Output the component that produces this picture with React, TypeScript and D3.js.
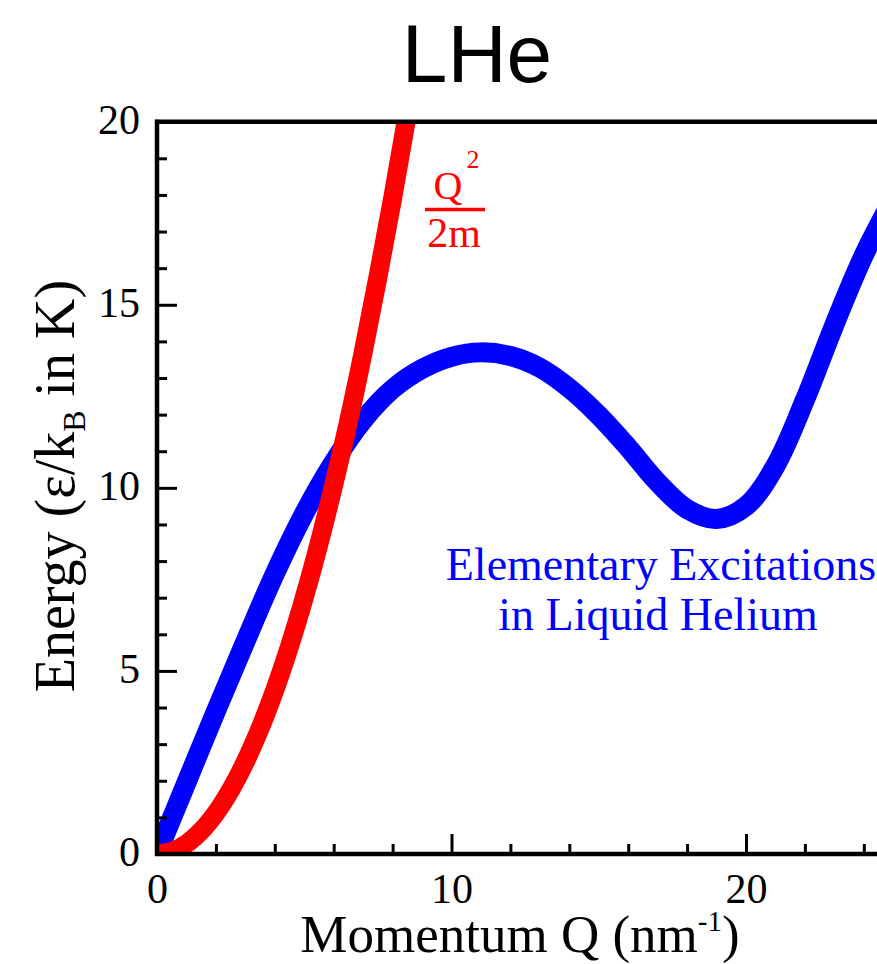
import React, { useEffect, useRef } from "react";
import * as d3 from "d3";

// blue curve: elementary excitations in liquid helium (phonon-roton)
const momentum = [0, 1, 2, 3, 4, 5, 6, 7, 8, 9, 10, 11, 12, 13, 14, 15, 16, 17, 18, 19, 20, 21, 22, 23, 24, 25];
const excitationEnergy = [0, 1.95, 3.9, 5.8, 7.65, 9.3, 10.7, 11.85, 12.7, 13.25, 13.58, 13.7, 13.6, 13.28, 12.72, 11.98, 11.1, 10.15, 9.42, 9.15, 9.5, 10.6, 12.4, 14.45, 16.35, 17.9];

// red curve: free particle Q^2/2m
const freeMomentum = [0, 0.5, 1, 1.5, 2, 2.5, 3, 3.5, 4, 4.5, 5, 5.5, 6, 6.5, 7, 7.5, 8, 8.5, 9];
const freeEnergy = [0, 0.07, 0.28, 0.63, 1.12, 1.75, 2.52, 3.43, 4.48, 5.67, 7.0, 8.47, 10.08, 11.8, 13.7, 15.75, 17.9, 20.2, 22.7];

const xMajorTicks = [0, 10, 20];
const xMinorTicks = [2, 4, 6, 8, 12, 14, 16, 18, 22, 24];
const yMajorTicks = [0, 5, 10, 15, 20];
const yMinorTicks = [1, 2, 3, 4, 6, 7, 8, 9, 11, 12, 13, 14, 16, 17, 18, 19];

const serif = "'Liberation Serif', 'Times New Roman', serif";
const sans = "'Liberation Sans', Arial, Helvetica, sans-serif";

function LHeChart() {
  const ref = useRef<SVGSVGElement>(null);

  useEffect(() => {
    const W = 877;
    const H = 964;
    const svg = d3.select(ref.current);
    svg.selectAll("*").remove();
    svg.attr("width", W).attr("height", H);

    const left = 157;
    const bottom = 854;
    const top = 121.7;
    const x = d3.scaleLinear().domain([0, 25]).range([left, left + 25 * 29.45]);
    const y = d3.scaleLinear().domain([0, 20]).range([bottom, top]);

    svg
      .append("defs")
      .append("clipPath")
      .attr("id", "plot-clip")
      .append("rect")
      .attr("x", left)
      .attr("y", top)
      .attr("width", x(25) - left)
      .attr("height", bottom - top);

    // title
    svg
      .append("text")
      .attr("x", 477)
      .attr("y", 82)
      .attr("text-anchor", "middle")
      .attr("font-family", sans)
      .attr("font-size", 82)
      .attr("fill", "#000")
      .text("LHe");

    const curves = svg.append("g").attr("clip-path", "url(#plot-clip)");
    const line = d3
      .line<[number, number]>()
      .x(d => x(d[0]))
      .y(d => y(d[1]))
      .curve(d3.curveCatmullRom.alpha(0.5));

    curves
      .append("path")
      .attr("d", line(momentum.map((q, i) => [q, excitationEnergy[i]] as [number, number])))
      .attr("fill", "none")
      .attr("stroke", "#0000ff")
      .attr("stroke-width", 20);

    curves
      .append("path")
      .attr("d", line(freeMomentum.map((q, i) => [q, freeEnergy[i]] as [number, number])))
      .attr("fill", "none")
      .attr("stroke", "#ff0000")
      .attr("stroke-width", 19);

    // ticks
    const axisX = svg.append("g").attr("transform", "translate(0," + bottom + ")");
    axisX.call(d3.axisBottom(x).tickValues(xMinorTicks).tickSize(-10).tickSizeOuter(0).tickFormat(() => ""));
    const axisXMajor = svg.append("g").attr("transform", "translate(0," + bottom + ")");
    axisXMajor.call(d3.axisBottom(x).tickValues(xMajorTicks).tickSize(-20).tickSizeOuter(0).tickPadding(19).tickFormat(d3.format("d")));

    const axisY = svg.append("g").attr("transform", "translate(" + left + ",0)");
    axisY.call(d3.axisLeft(y).tickValues(yMinorTicks).tickSize(-10).tickSizeOuter(0).tickFormat(() => ""));
    const axisYMajor = svg.append("g").attr("transform", "translate(" + left + ",0)");
    axisYMajor.call(d3.axisLeft(y).tickValues(yMajorTicks).tickSize(-20).tickSizeOuter(0).tickPadding(17).tickFormat(d3.format("d")));

    [axisX, axisXMajor, axisY, axisYMajor].forEach(g => {
      g.select(".domain").remove();
      g.selectAll(".tick line").attr("stroke", "#000").attr("stroke-width", 3);
      g.selectAll(".tick text").attr("font-family", serif).attr("font-size", 42).attr("fill", "#000");
    });
    axisYMajor.selectAll(".tick text").attr("dy", "0.28em");

    // frame
    const frame = svg.append("g").attr("stroke", "#000").attr("stroke-width", 4.5).attr("fill", "none");
    frame.append("line").attr("x1", left).attr("x2", left).attr("y1", top - 2).attr("y2", bottom + 2);
    frame.append("line").attr("x1", left - 2).attr("x2", x(25)).attr("y1", bottom).attr("y2", bottom);
    frame.append("line").attr("x1", left - 2).attr("x2", x(25)).attr("y1", top).attr("y2", top);

    // axis titles
    const xTitle = svg
      .append("text")
      .attr("x", 520)
      .attr("y", 952)
      .attr("text-anchor", "middle")
      .attr("font-family", serif)
      .attr("font-size", 53)
      .attr("fill", "#000");
    xTitle.append("tspan").text("Momentum Q (nm");
    xTitle.append("tspan").attr("dy", -21).attr("font-size", 29).text("-1");
    xTitle.append("tspan").attr("dy", 21).text(")");

    const yTitle = svg
      .append("text")
      .attr("transform", "translate(74,486) rotate(-90)")
      .attr("text-anchor", "middle")
      .attr("font-family", serif)
      .attr("font-size", 56)
      .attr("fill", "#000");
    yTitle.append("tspan").text("Energy (ε/k");
    yTitle.append("tspan").attr("dy", 11).attr("font-size", 32).text("B");
    yTitle.append("tspan").attr("dy", -11).text(" in K)");

    // red label Q^2 / 2m
    const red = svg.append("g").attr("fill", "#ff0000").attr("font-family", serif);
    red.append("text").attr("x", 448).attr("y", 199).attr("text-anchor", "middle").attr("font-size", 40).text("Q");
    red.append("text").attr("x", 473).attr("y", 168).attr("text-anchor", "middle").attr("font-size", 26).text("2");
    red
      .append("line")
      .attr("x1", 425)
      .attr("x2", 485)
      .attr("y1", 209.5)
      .attr("y2", 209.5)
      .attr("stroke", "#ff0000")
      .attr("stroke-width", 3.5);
    red.append("text").attr("x", 454).attr("y", 247).attr("text-anchor", "middle").attr("font-size", 42).text("2m");

    // blue label
    const blue = svg
      .append("text")
      .attr("text-anchor", "middle")
      .attr("font-family", serif)
      .attr("font-size", 46)
      .attr("fill", "#0000ff");
    blue.append("tspan").attr("x", 661).attr("y", 580).text("Elementary Excitations");
    blue.append("tspan").attr("x", 658).attr("y", 630).text("in Liquid Helium");
  }, []);

  return <svg ref={ref} style={{ position: "absolute", left: 0, top: 0, display: "block", background: "#fff" }} />;
}

export default function App() {
  return <LHeChart />;
}
